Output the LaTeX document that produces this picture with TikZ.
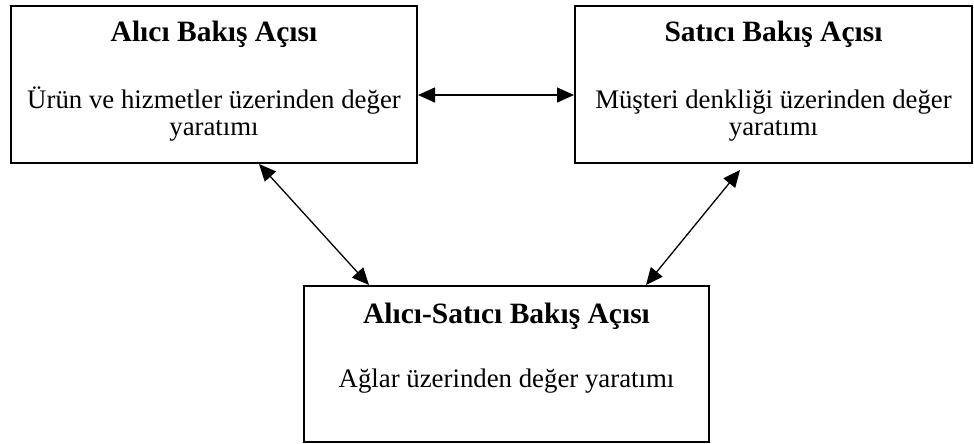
\documentclass[tikz,border=0pt]{standalone}
\usepackage{fontspec}
\setmainfont{Liberation Serif}
\usetikzlibrary{arrows.meta}
\begin{document}
\begin{tikzpicture}[x=1pt,y=-1pt,
  box/.style={draw,line width=2pt,rectangle,inner sep=0pt},
  ttl/.style={anchor=base,font=\fontsize{29.5}{32}\selectfont\bfseries},
  bdy/.style={anchor=base,align=center,font=\fontsize{26.8}{27}\selectfont},
  arr/.style={line width=1.3pt,{Triangle[length=17pt,width=15pt]}-{Triangle[length=17pt,width=15pt]}}]
\useasboundingbox (0,0) rectangle (974,444);
\node[box,minimum width=406pt,minimum height=157pt] (b1) at (214,84.5) {};
\node[box,minimum width=397pt,minimum height=157pt] (b2) at (773.5,84.5) {};
\node[box,minimum width=405pt,minimum height=156pt] (b3) at (506.5,364) {};
\node[ttl] (t1) at (214,42) {Alıcı Bakış Açısı};
\node[bdy] (d1) at (214,135) {Ürün ve hizmetler üzerinden değer\\yaratımı};
\node[ttl] (t2) at (773.5,42) {Satıcı Bakış Açısı};
\node[bdy] (d2) at (773.5,135) {Müşteri denkliği üzerinden değer\\yaratımı};
\node[ttl] (t3) at (506.5,323) {Alıcı-Satıcı Bakış Açısı};
\node[bdy] (d3) at (506.5,387) {Ağlar üzerinden değer yaratımı};
\draw[arr] ([yshift=-10.5pt]b1.east) -- ([yshift=-10.5pt]b2.west);
\draw[arr] ([xshift=249pt]b1.south west) -- ([xshift=66pt]b3.north west);
\draw[arr] ([xshift=166pt,yshift=-6pt]b2.south west) -- ([xshift=-64pt]b3.north east);
\end{tikzpicture}
\end{document}
